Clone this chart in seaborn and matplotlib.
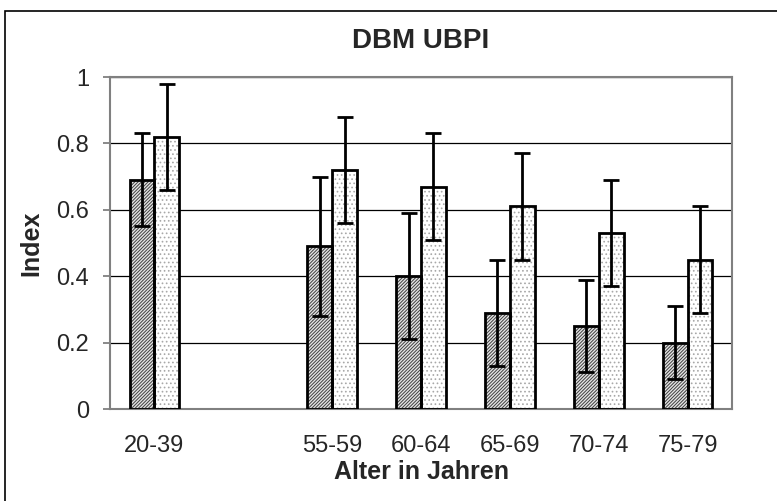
import numpy as np
import pandas as pd
import matplotlib
matplotlib.use("Agg")
import matplotlib.pyplot as plt
from matplotlib.patches import Rectangle
from matplotlib.ticker import FormatStrFormatter, FixedLocator
import seaborn as sns

# ======= Daten =======
categories = ["20-39", "", "55-59", "60-64", "65-69", "70-74", "75-79"]
groups = ["20-39", "55-59", "60-64", "65-69", "70-74", "75-79"]
series_names = ["Serie 1", "Serie 2"]
values_1 = [0.69, 0.49, 0.40, 0.29, 0.25, 0.20]
values_2 = [0.82, 0.72, 0.67, 0.61, 0.53, 0.45]
err_1 = [0.14, 0.21, 0.19, 0.16, 0.14, 0.11]
err_2 = [0.16, 0.16, 0.16, 0.16, 0.16, 0.16]

df = pd.DataFrame({
    "Alter": groups * 2,
    "Serie": [series_names[0]] * len(groups) + [series_names[1]] * len(groups),
    "Index": values_1 + values_2,
})

sns.set_style("white")
plt.rcParams["font.family"] = ["Liberation Sans", "DejaVu Sans"]
plt.rcParams["hatch.linewidth"] = 0.7

fig = plt.figure(figsize=(7.77, 5.01), dpi=100)
ax = fig.add_axes([110 / 777, 1 - 409 / 501, 622 / 777, 332 / 501])

sns.barplot(data=df, x="Alter", y="Index", hue="Serie", order=categories,
            hue_order=series_names, width=0.56, errorbar=None, legend=False,
            palette=["#e4e4e4", "white"], linewidth=0, ax=ax)

# ======= Schraffur, Umrandung, Fehlerbalken =======
styles = [("//////////", "#404040"), ("....", "#a8a8a8")]
errs = [err_1, err_2]
for cont, (hatch, hc), err in zip(ax.containers, styles, errs):
    xs, hs = [], []
    for p in cont.patches:
        if np.isnan(p.get_height()):
            continue
        p.set_hatch(hatch)
        p.set_edgecolor(hc)
        p.set_linewidth(0)
        ax.add_patch(Rectangle(p.get_xy(), p.get_width(), p.get_height(),
                               fill=False, edgecolor="black", linewidth=2, zorder=3))
        xs.append(p.get_x() + p.get_width() / 2)
        hs.append(p.get_height())
    ax.errorbar(xs, hs, yerr=err, fmt="none", ecolor="black", elinewidth=2,
                capsize=5.5, capthick=2, zorder=4)

# ======= Achsen =======
ax.set_ylim(0, 1)
ax.set_xlim(-0.5, len(categories) - 0.5)
ax.set_yticks([0, 0.2, 0.4, 0.6, 0.8, 1.0])
ax.yaxis.set_major_formatter(FormatStrFormatter("%g"))
ax.yaxis.grid(True, color="black", linewidth=0.9)
ax.set_axisbelow(True)

ax.set_xticks(range(len(categories)))
ax.set_xticklabels(categories)
ax.tick_params(axis="x", which="major", length=0, labelsize=17, pad=19)
ax.xaxis.set_minor_locator(FixedLocator(np.arange(-0.5, len(categories), 1.0)))
ax.tick_params(axis="x", which="minor", length=7, width=1.3, color="#808080", direction="out")
ax.tick_params(axis="y", length=5, width=1.3, color="#808080", labelsize=17, pad=10, left=True)

for s in ax.spines.values():
    s.set_color("#808080")
    s.set_linewidth(1.5)

ax.set_title("DBM UBPI", fontsize=20, fontweight="bold", pad=21)
ax.set_xlabel("Alter in Jahren", fontsize=18, fontweight="bold", labelpad=2)
ax.set_ylabel("Index", fontsize=18, fontweight="bold", labelpad=9)

# ======= Rahmen um die Grafik =======
fig.patches.append(Rectangle((5 / 777, -0.02), 1.0, 1 - 11 / 501 + 0.02,
                             transform=fig.transFigure, fill=False,
                             edgecolor="black", linewidth=1.2))

fig.savefig("out.png", dpi=100)
